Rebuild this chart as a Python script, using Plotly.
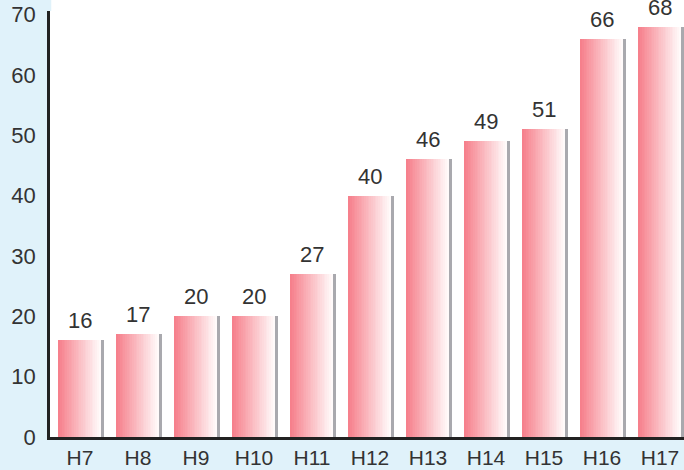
import plotly.graph_objects as go

categories = ["H7", "H8", "H9", "H10", "H11", "H12", "H13", "H14", "H15", "H16", "H17"]
values = [16, 17, 20, 20, 27, 40, 46, 49, 51, 66, 68]
y_ticks = [0, 10, 20, 30, 40, 50, 60, 70]

FONT = "Liberation Sans, Arial, sans-serif"
BAR_W = 0.724
SHADOW_W = 0.052
N_SLICES = 24
LEFT_RGB = (246, 128, 140)
RIGHT_RGB = (255, 250, 250)

fig = go.Figure()
xs = list(range(len(categories)))

# shadow
fig.add_trace(go.Bar(
    x=xs, y=values,
    width=BAR_W + SHADOW_W, offset=-BAR_W / 2,
    marker=dict(color="#a9a9ae", line=dict(width=0)),
    hoverinfo="skip", showlegend=False,
))

# gradient slices
sw = BAR_W / N_SLICES
for i in range(N_SLICES):
    t = i / (N_SLICES - 1)
    r, g, b = [round(LEFT_RGB[k] + (RIGHT_RGB[k] - LEFT_RGB[k]) * t) for k in range(3)]
    fig.add_trace(go.Bar(
        x=xs, y=values,
        width=sw * 1.08, offset=-BAR_W / 2 + i * sw,
        marker=dict(color=f"rgb({r},{g},{b})", line=dict(width=0)),
        hoverinfo="skip", showlegend=False,
    ))

# value labels
for xi, v in zip(xs, values):
    fig.add_annotation(
        x=xi, y=v, text=str(v), showarrow=False,
        yanchor="bottom", yshift=5,
        font=dict(size=22, color="#333333", family=FONT),
    )

fig.update_layout(
    width=684, height=470,
    margin=dict(l=50, r=0, t=11, b=33, autoexpand=False),
    paper_bgcolor="#e0f2fa",
    plot_bgcolor="#ffffff",
    barmode="overlay",
    bargap=0,
    font=dict(family=FONT, size=22, color="#333333"),
    xaxis=dict(
        range=[-0.517, 10.414],
        tickmode="array", tickvals=xs, ticktext=categories,
        showgrid=False, zeroline=False,
        showline=True, linecolor="#222222", linewidth=2.5,
        ticks="", ticklabelstandoff=0,
        tickfont=dict(size=21, color="#333333", family=FONT),
        ticklabeloverflow="allow", automargin=False,
        fixedrange=True,
    ),
    yaxis=dict(
        range=[0, 70.6],
        tickmode="array", tickvals=y_ticks,
        showgrid=False, zeroline=False,
        showline=True, linecolor="#222222", linewidth=2.5,
        ticks="", ticklabelstandoff=7,
        tickfont=dict(size=22, color="#333333", family=FONT),
        ticklabeloverflow="allow", automargin=False,
        fixedrange=True,
    ),
    shapes=[dict(type="rect", xref="paper", yref="paper",
                 x0=0.002, x1=1.0, y0=1.0, y1=1.05,
                 fillcolor="#ffffff", line=dict(width=0), layer="below")],
)

fig.write_html("out.html")
